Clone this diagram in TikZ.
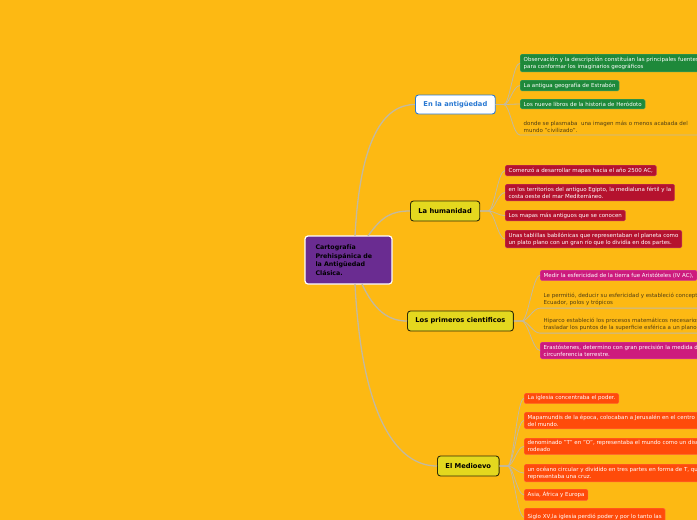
\documentclass[tikz,border=0pt]{standalone}
\usepackage{fontspec}
\setmainfont{DejaVu Sans}
\definecolor{bg}{RGB}{253,185,19}
\definecolor{cpurple}{RGB}{106,44,145}
\definecolor{cgreen}{RGB}{30,137,58}
\definecolor{cred}{RGB}{181,18,46}
\definecolor{cmag}{RGB}{205,27,125}
\definecolor{corange}{RGB}{255,75,10}
\definecolor{cyellow}{RGB}{228,216,30}
\definecolor{cblue}{RGB}{40,120,210}
\definecolor{cline}{RGB}{195,185,160}
\definecolor{ctext}{RGB}{80,62,20}
\begin{document}
\begin{tikzpicture}[x=1pt,y=-1pt,
  mainline/.style={draw=cline,line width=1.3pt},
  subline/.style={draw=cline,line width=0.8pt},
  central/.style={draw=white,line width=1.2pt,fill=cpurple,rounded corners=3pt,
    minimum height=48pt,text width=66pt,inner xsep=10.5pt,align=left,
    font=\bfseries\fontsize{6.3}{8.7}\selectfont,text=black},
  topic/.style={rounded corners=3pt,minimum height=20pt,inner xsep=8pt,
    font=\bfseries\fontsize{6.7}{8}\selectfont},
  ytopic/.style={topic,fill=cyellow,draw=black!80!cyellow,line width=0.9pt,text=black},
  btopic/.style={topic,fill=white,draw=cblue,line width=0.9pt,text=cblue,minimum height=19pt},
  cbox/.style={anchor=north west,rounded corners=1.5pt,inner xsep=3.5pt,inner ysep=2.6pt,
    font=\fontsize{5.5}{7}\selectfont,align=left,text=white},
  gbox/.style={cbox,fill=cgreen,draw=cgreen!80!white,line width=0.4pt},
  rbox/.style={cbox,fill=cred,draw=cred!80!white,line width=0.4pt},
  mbox/.style={cbox,fill=cmag,draw=cmag!80!white,line width=0.4pt},
  obox/.style={cbox,fill=corange,draw=corange!80!white,line width=0.4pt},
  tbox/.style={cbox,text=ctext}
]
\fill[bg] (0,0) rectangle (697,520);
\useasboundingbox (0,0) rectangle (697,520);
\clip (0,0) rectangle (697,520);

% central
\node[central] (c) at (348.5,260) {Cartografía\\Prehispánica de\\la Antigüedad\\Clásica.};
\coordinate (c1) at (355,236);
\coordinate (c2) at (368,236);
\coordinate (c3) at (362,284);
\coordinate (c4) at (355,284);

% topics
\node[btopic,anchor=west] (t1) at (415,104.5) {En la antigüedad};
\node[ytopic,anchor=west] (t2) at (410,211) {La humanidad};
\node[ytopic,anchor=west] (t3) at (407,321) {Los primeros cientificos};
\node[ytopic,anchor=west] (t4) at (437,466) {El Medioevo};

% children green
\node[gbox] (g1) at (520,54) {Observación y la descripción constituían las principales fuentes\\para conformar los imaginarios geográficos};
\node[gbox] (g2) at (520,80) {La antigua geografía de Estrabón};
\node[gbox] (g3) at (520,99) {Los nueve libros de la historia de Heródoto};
\node[tbox] (g4) at (520,118) {donde se plasmaba\ \ una imagen más o menos acabada del\\mundo "civilizado".};

% children red
\node[rbox] (r1) at (505,165) {Comenzó a desarrollar mapas hacia el año 2500 AC,};
\node[rbox] (r2) at (505,184) {en los territorios del antiguo Egipto, la medialuna fértil y la\\costa oeste del mar Mediterráneo.};
\node[rbox] (r3) at (505,210) {Los mapas más antiguos que se conocen};
\node[rbox] (r4) at (505,230) {Unas tablillas babilónicas que representaban el planeta como\\un plato plano con un gran río que lo dividía en dos partes.};

% children magenta
\node[mbox] (m1) at (540,270) {Medir la esfericidad de la tierra fue Aristóteles (IV AC),};
\node[tbox] (m2) at (540,290) {Le permitió, deducir su esfericidad y estableció conceptos\\Ecuador, polos y trópicos};
\node[tbox] (m3) at (540,315) {Hiparco estableció los procesos matemáticos necesarios\\trasladar los puntos de la superficie esférica a un plano};
\node[mbox] (m4) at (540,342) {Erastóstenes, determino con gran precisión la medida de la\\circunferencia terrestre.};

% children orange
\node[obox] (o1) at (524,393) {La iglesia concentraba el poder.};
\node[obox] (o2) at (524,412) {Mapamundis de la época, colocaban a Jerusalén en el centro\\del mundo.};
\node[obox] (o3) at (524,438) {denominado "T" en "O", representaba el mundo como un disco\\rodeado};
\node[obox] (o4) at (524,464) {un océano circular y dividido en tres partes en forma de T, que\\representaba una cruz.};
\node[obox] (o5) at (524,489) {Asia, África y Europa};
\node[obox,minimum height=18pt,anchor=north west] (o6) at (524,508) {Siglo XV,la iglesia perdió poder y por lo tanto las};

% main connectors
\draw[mainline] (c1) .. controls (360,140) and (383,104.5) .. (t1.west);
\draw[mainline] (c2) .. controls (382,216) and (392,211) .. (t2.west);
\draw[mainline] (c3) .. controls (374,310) and (388,321) .. (t3.west);
\draw[mainline] (c4) .. controls (362,420) and (398,466) .. (t4.west);

% child connectors
\foreach \ch in {g1,g2,g3}{\draw[subline] (t1.east) -- ++(8,0) .. controls +(6,0) and +(-7,0) .. (\ch.west);}
\draw[subline] (t1.east) -- ++(8,0) .. controls +(6,0) and +(-7,0) .. (g4.south west) -- (697,0 |- g4.south);
\foreach \ch in {r1,r2,r3,r4}{\draw[subline] (t2.east) -- ++(8,0) .. controls +(6,0) and +(-7,0) .. (\ch.west);}
\foreach \ch in {m1,m4}{\draw[subline] (t3.east) -- ++(8,0) .. controls +(6,0) and +(-7,0) .. (\ch.west);}
\foreach \ch in {m2,m3}{\draw[subline] (t3.east) -- ++(8,0) .. controls +(6,0) and +(-7,0) .. (\ch.south west) -- (697,0 |- \ch.south);}
\foreach \ch in {o1,o2,o3,o4,o5,o6}{\draw[subline] (t4.east) -- ++(8,0) .. controls +(6,0) and +(-7,0) .. (\ch.west);}
\end{tikzpicture}
\end{document}
